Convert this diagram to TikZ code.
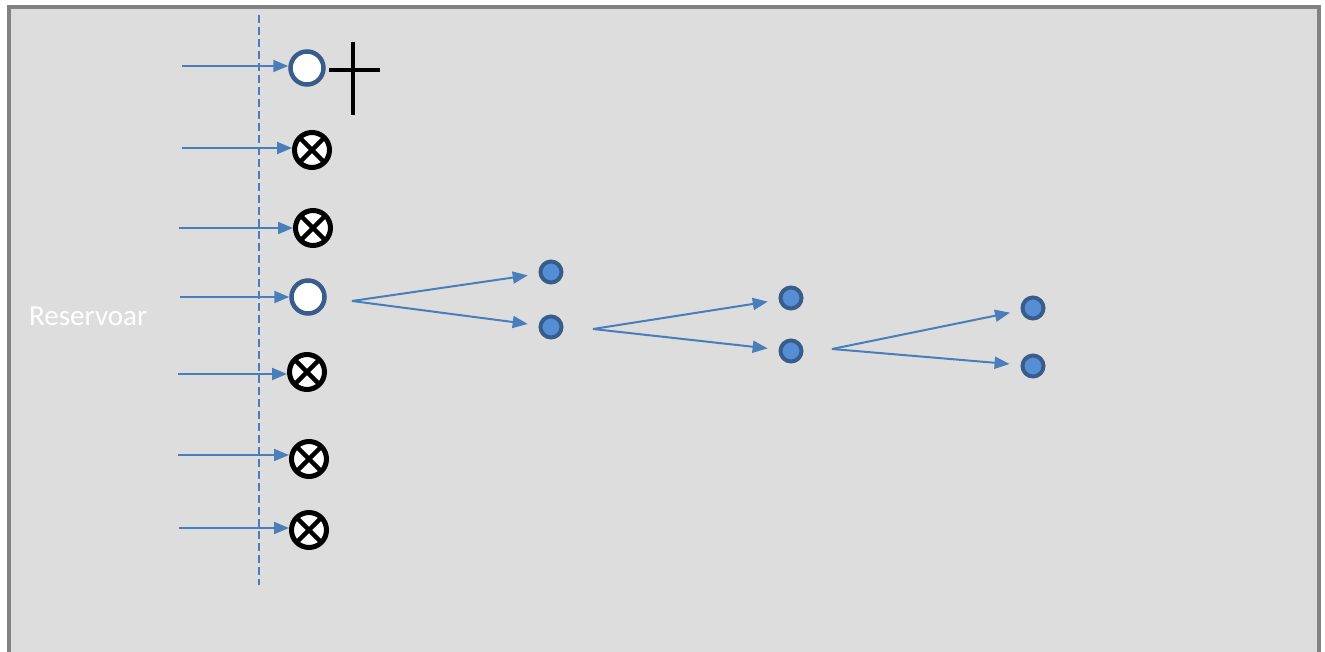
\documentclass[tikz,border=0pt]{standalone}
\usepackage{fontspec}
\newfontfamily\carl{Carlito}
\usetikzlibrary{arrows.meta}
\definecolor{bg}{HTML}{DDDDDD}
\definecolor{frame}{HTML}{828282}
\definecolor{arr}{HTML}{4A7EBB}
\definecolor{ring}{HTML}{385D8A}
\definecolor{dotfill}{HTML}{558ED5}
\tikzset{
  flow/.style={draw=arr, line width=2pt, -{Triangle[length=15pt,width=12pt]}},
  fan/.style={flow, shorten >=11pt},
  otimes/.style={circle, draw=black, fill=white, line width=5pt, minimum size=35pt, inner sep=0pt,
    path picture={\draw[line width=4.5pt] (path picture bounding box.north west) -- (path picture bounding box.south east)
      (path picture bounding box.north east) -- (path picture bounding box.south west);}},
  openc/.style={circle, draw=ring, fill=white, line width=4.5pt, minimum size=33pt, inner sep=0pt},
  dotc/.style={circle, draw=ring, fill=dotfill, line width=4pt, minimum size=21pt, inner sep=0pt},
  plusbar/.style={draw=black, line width=4.5pt},
  guide/.style={draw=arr, line width=2pt, dash pattern=on 8pt off 4pt}
}
\begin{document}
\begin{tikzpicture}[x=1pt,y=-1pt]
\useasboundingbox (0,0) rectangle (1325,652);
% frame
\fill[bg] (8,7) rectangle (1319,652);
\draw[frame, line width=4pt] (8.5,652) -- (8.5,7) -- (1319,7) -- (1319,652);
% dashed guide
\coordinate (gtop) at (259,15);
\coordinate (gbot) at (259,585);
\draw[guide] (gtop) -- (gbot);
% text
\node[anchor=base west, inner sep=0pt, text=white, font=\carl\fontsize{29}{32}\selectfont] (res) at (29,325) {Reservoar};
% left column nodes
\node[openc] (n1) at (307,68) {};
\node[otimes] (n2) at (312,150) {};
\node[otimes] (n3) at (313,228) {};
\node[openc] (n4) at (308,297) {};
\node[otimes] (n5) at (307,372) {};
\node[otimes] (n6) at (309,459) {};
\node[otimes] (n7) at (309,530) {};
% plus sign
\coordinate (ph1) at (329,70);
\coordinate (ph2) at (380,70);
\coordinate (pv1) at (353,42);
\coordinate (pv2) at (353,115);
\draw[plusbar] (ph1) -- (ph2);
\draw[plusbar] (pv1) -- (pv2);
% incoming arrows
\coordinate (s1) at (182,66);
\coordinate (s2) at (182,148);
\coordinate (s3) at (179,228);
\coordinate (s4) at (180,297);
\coordinate (s5) at (178,374);
\coordinate (s6) at (178,455);
\coordinate (s7) at (179,528);
\draw[flow] (s1) -- (s1 -| n1.west);
\draw[flow] (s2) -- (s2 -| n2.west);
\draw[flow] (s3) -- (s3 -| n3.west);
\draw[flow] (s4) -- (s4 -| n4.west);
\draw[flow] (s5) -- (s5 -| n5.west);
\draw[flow] (s6) -- (s6 -| n6.west);
\draw[flow] (s7) -- (s7 -| n7.west);
% dots
\node[dotc] (a1) at (551,272) {};
\node[dotc] (a2) at (551,327) {};
\node[dotc] (b1) at (791,298) {};
\node[dotc] (b2) at (791,351) {};
\node[dotc] (c1) at (1033,308) {};
\node[dotc] (c2) at (1033,366) {};
% fans
\coordinate (f1) at (352,301);
\coordinate (f2) at (593,329);
\coordinate (f3) at (832,349);
\draw[fan] (f1) -- (a1);
\draw[fan] (f1) -- (a2);
\draw[fan] (f2) -- (b1);
\draw[fan] (f2) -- (b2);
\draw[fan] (f3) -- (c1);
\draw[fan] (f3) -- (c2);
\end{tikzpicture}
\end{document}
